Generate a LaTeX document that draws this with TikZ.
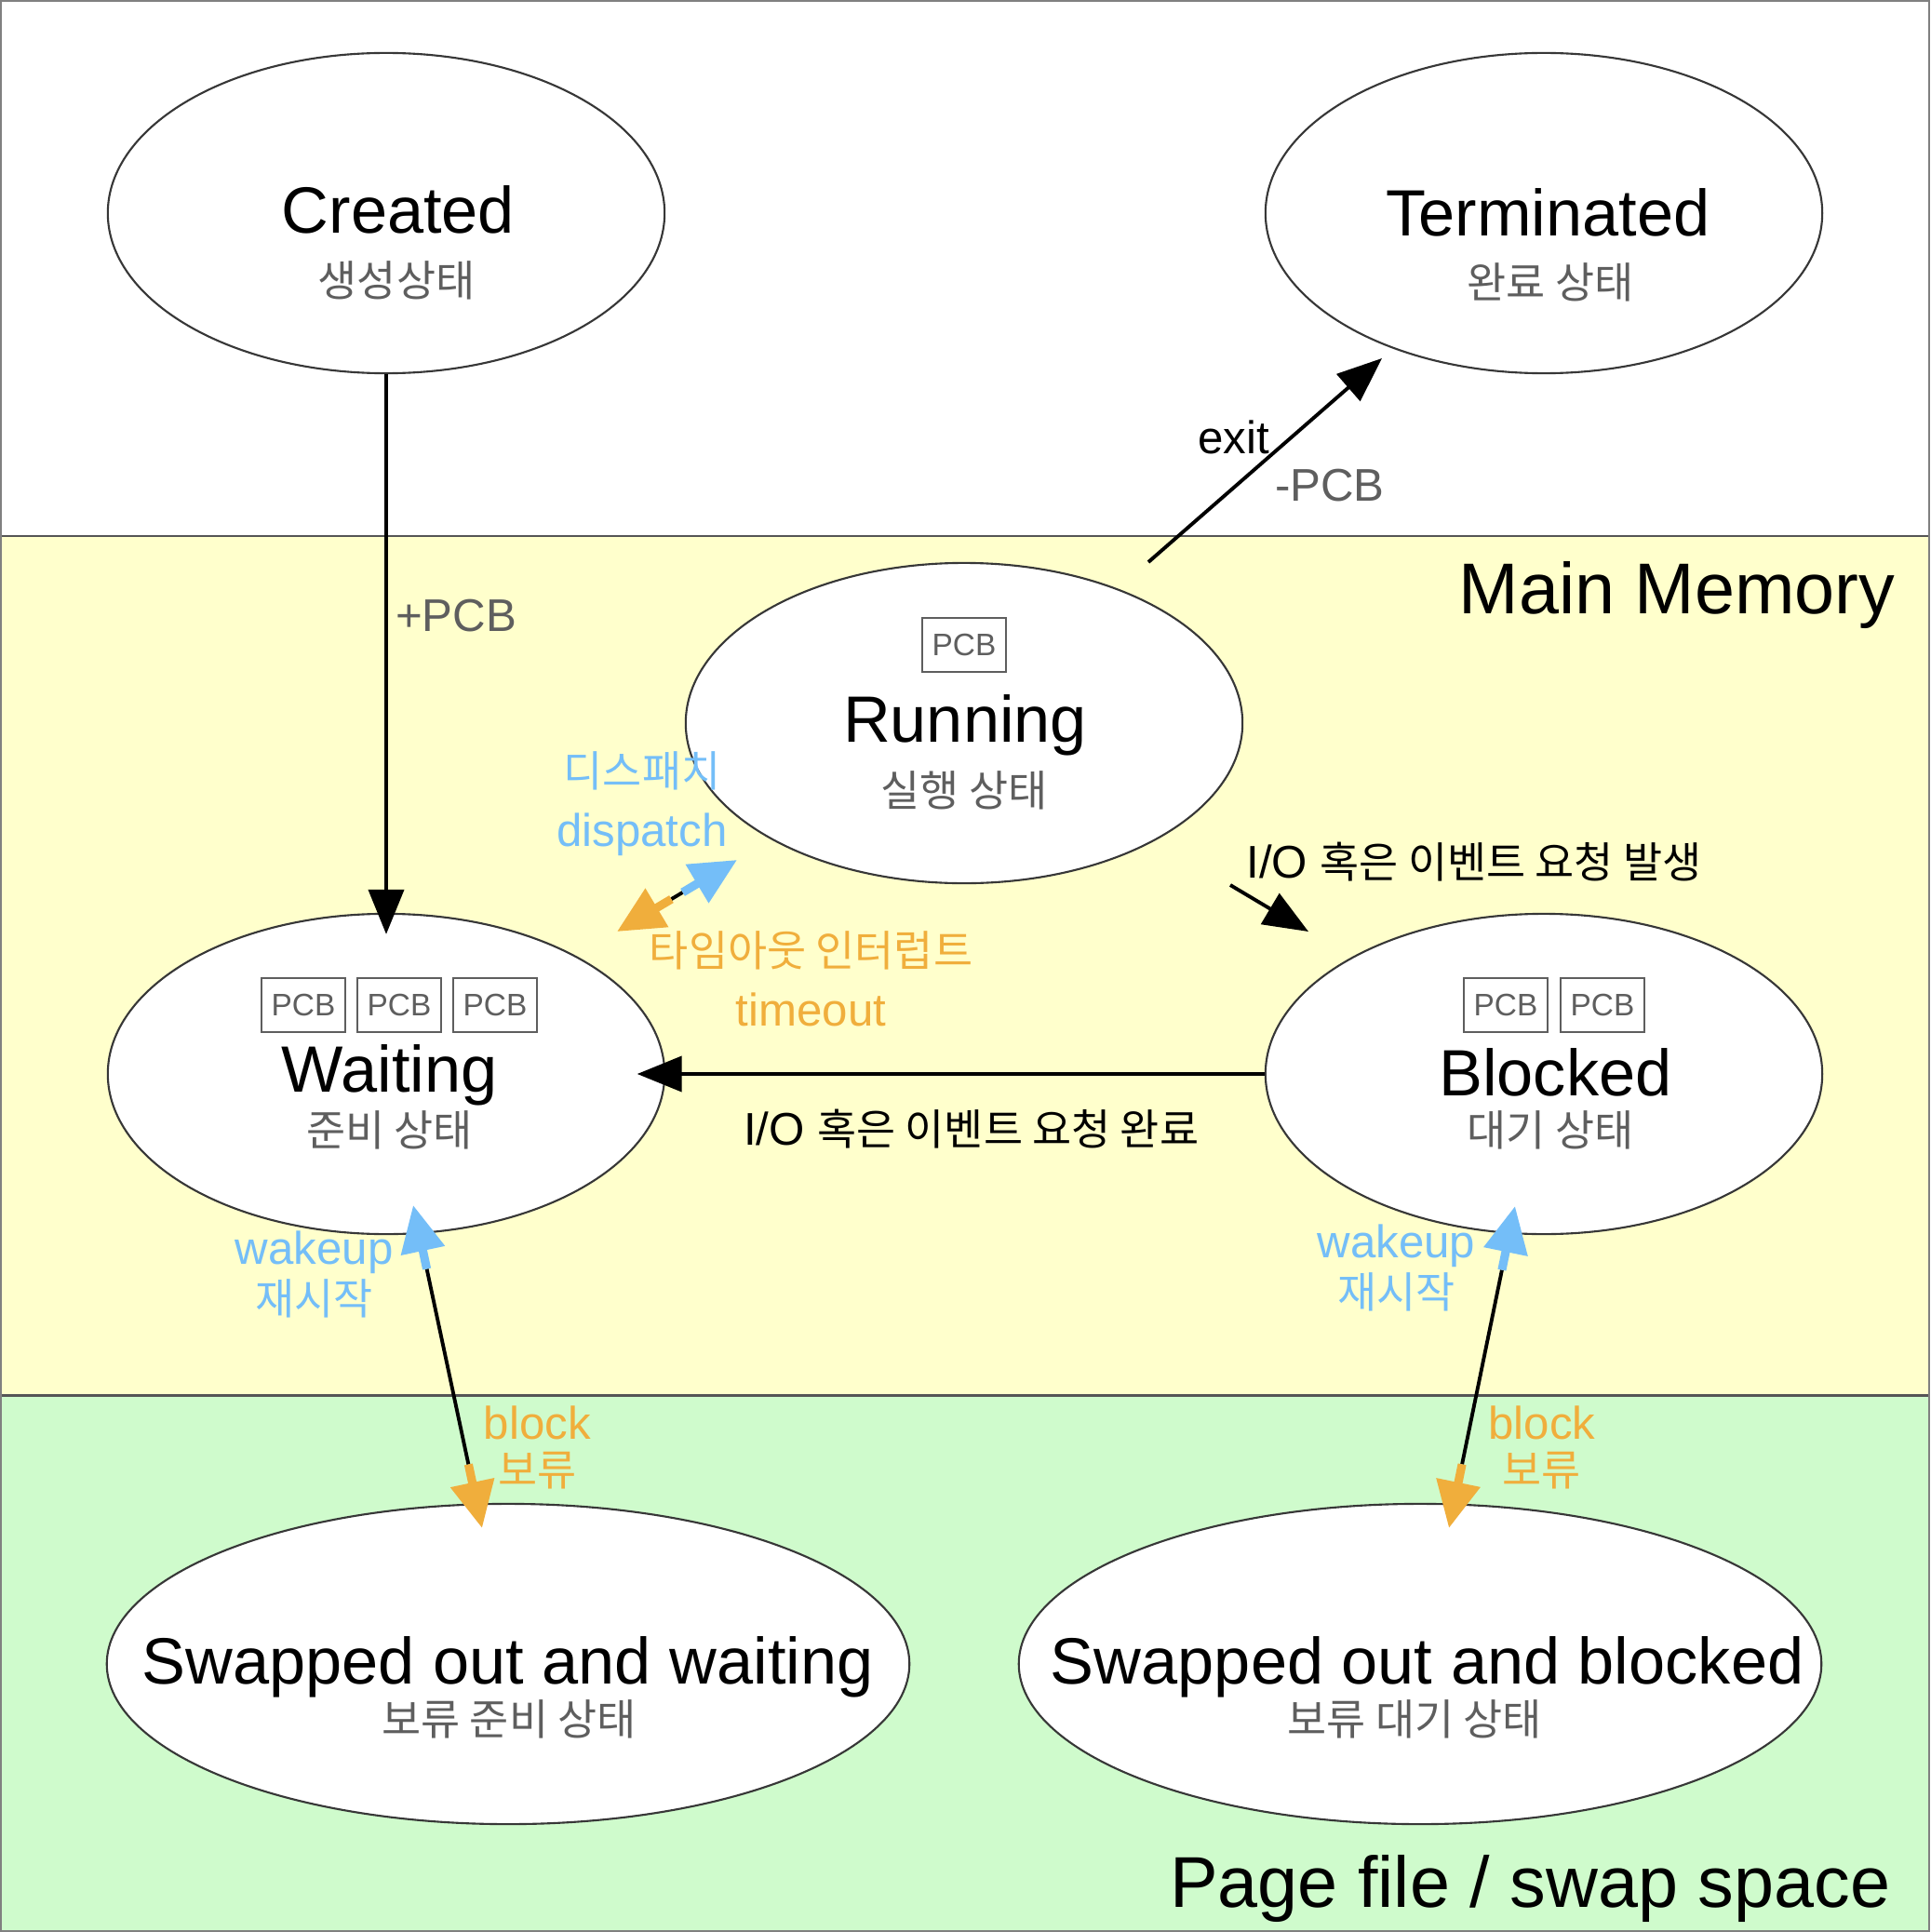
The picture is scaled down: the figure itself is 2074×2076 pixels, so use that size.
\documentclass[tikz,border=0pt]{standalone}
\usepackage{fontspec}
\setmainfont{Liberation Sans}
\newfontfamily\kr[Scale=0.93]{Noto Sans CJK KR}
\usetikzlibrary{arrows.meta,shapes.geometric,calc}
\definecolor{yband}{RGB}{255,255,204}
\definecolor{gband}{RGB}{207,251,204}
\definecolor{blueC}{RGB}{116,190,248}
\definecolor{orangeC}{RGB}{240,174,60}
\definecolor{grayT}{RGB}{94,94,94}
\definecolor{edgeC}{RGB}{55,55,55}
\definecolor{bandline}{RGB}{85,85,85}
\begin{document}
\begin{tikzpicture}[x=0.01cm,y=-0.01cm,
  statebox/.style={ellipse, draw=edgeC, line width=0.6pt, fill=white, inner sep=0pt,
    minimum width=5.98cm, minimum height=3.44cm},
  widebox/.style={statebox, minimum width=8.62cm},
  pcb/.style={rectangle, draw=grayT, line width=0.45pt, minimum width=0.9cm,
    minimum height=0.58cm, inner sep=0pt, text=grayT, font=\fontsize{9.5}{11}\selectfont},
  stname/.style={inner sep=0pt, font=\fontsize{20}{24}\selectfont},
  subname/.style={inner sep=0pt, text=grayT, font=\kr\fontsize{14}{16}\selectfont},
  lbl/.style={inner sep=0pt, font=\fontsize{14}{16}\selectfont},
  klbl/.style={inner sep=0pt, font=\kr\fontsize{14}{16}\selectfont},
  conn/.style={draw=black, line width=1.1pt, -{Triangle[length=0.48cm,width=0.38cm]}},
  blueend/.style={draw=blueC, line width=2.6pt, -{Triangle[length=0.5cm,width=0.46cm]}},
  orangeend/.style={draw=orangeC, line width=2.6pt, -{Triangle[length=0.5cm,width=0.46cm]}},
  thinline/.style={draw=black, line width=1.1pt}
]
\useasboundingbox (0,0) rectangle (2074,2076);
% bands
\fill[white] (0,0) rectangle (2074,576);
\fill[yband] (0,576) rectangle (2074,1499);
\fill[gband] (0,1499) rectangle (2074,2076);
\draw[bandline, line width=0.85pt] (0,576) -- (2074,576);
\draw[bandline, line width=0.85pt] (0,1499) -- (2074,1499);
\draw[gray, line width=0.6pt] (1,1) rectangle (2073,2075);

% states
\node[statebox] (created) at (415,229) {};
\node[statebox] (terminated) at (1659,229) {};
\node[statebox] (running) at (1036,777) {};
\node[statebox] (waiting) at (415,1154) {};
\node[statebox] (blocked) at (1659,1154) {};
\node[widebox] (swapw) at (546,1788) {};
\node[widebox] (swapb) at (1526,1788) {};

% region titles
\node[anchor=base east, inner sep=0pt, font=\fontsize{22}{26}\selectfont] (mainmem) at (2037,659.5) {Main Memory};
\node[anchor=base east, inner sep=0pt, font=\fontsize{22}{26}\selectfont] (pagefile) at (2032,2049) {Page file / swap space};

% connectors
\draw[conn, shorten >=-0.23cm] (created.south) -- (waiting.north);
\draw[conn, shorten >=-0.305cm] (blocked.west) -- (waiting.east);
\coordinate (ex0) at (1234,604);
\coordinate (ex1) at (1485,385);
\draw[conn] (ex0) -- (ex1);
\coordinate (io0) at (1322,951);
\coordinate (io1) at (1406,1001);
\draw[conn] (io0) -- (io1);

% dispatch / timeout
\coordinate (dpB) at (792,924);
\coordinate (dpO) at (663,1001);
\draw[thinline] ($(dpB)!0.68cm!(dpO)$) -- ($(dpO)!0.68cm!(dpB)$);
\draw[blueend] ($(dpB)!0.68cm!(dpO)$) -- (dpB);
\draw[orangeend] ($(dpO)!0.68cm!(dpB)$) -- (dpO);

% left swap
\coordinate (swlU) at (444,1295);
\coordinate (swlD) at (518,1642);
\draw[thinline] ($(swlU)!0.70cm!(swlD)$) -- ($(swlD)!0.70cm!(swlU)$);
\draw[blueend] ($(swlU)!0.70cm!(swlD)$) -- (swlU);
\draw[orangeend] ($(swlD)!0.70cm!(swlU)$) -- (swlD);

% right swap
\coordinate (swrU) at (1628,1296);
\coordinate (swrD) at (1557,1642);
\draw[thinline] ($(swrU)!0.70cm!(swrD)$) -- ($(swrD)!0.70cm!(swrU)$);
\draw[blueend] ($(swrU)!0.70cm!(swrD)$) -- (swrU);
\draw[orangeend] ($(swrD)!0.70cm!(swrU)$) -- (swrD);

% state texts
\node[stname] (tcreated) at (428,225) {Created};
\node[subname] (kcreated) at (426,301) {생성상태};
\node[stname] (tterm) at (1663.5,228) {Terminated};
\node[subname] (kterm) at (1666,303) {완료 상태};
\node[pcb] (pcbr) at (1036,693) {PCB};
\node[stname] (trun) at (1037,779.5) {Running};
\node[subname] (krun) at (1036,849) {실행 상태};
\node[pcb] (pcbw1) at (326,1080) {PCB};
\node[pcb] (pcbw2) at (429,1080) {PCB};
\node[pcb] (pcbw3) at (532,1080) {PCB};
\node[stname] (twait) at (418.5,1155.6) {Waiting};
\node[subname] (kwait) at (418.5,1214) {준비 상태};
\node[pcb] (pcbb1) at (1618,1080) {PCB};
\node[pcb] (pcbb2) at (1722,1080) {PCB};
\node[stname] (tblock) at (1671.4,1152.2) {Blocked};
\node[subname] (kblock) at (1666,1214) {대기 상태};
\node[stname] (tswapw) at (545.7,1791.3) {Swapped out and waiting};
\node[subname] (kswapw) at (547,1847) {보류 준비 상태};
\node[stname] (tswapb) at (1533.7,1791.3) {Swapped out and blocked};
\node[subname] (kswapb) at (1520.4,1847) {보류 대기 상태};

% labels
\node[lbl, text=grayT] (lplus) at (490,662) {+PCB};
\node[lbl] (lexit) at (1325.7,470) {exit};
\node[lbl, text=grayT] (lminus) at (1429,522) {-PCB};
\node[klbl, text=blueC] (ldispk) at (690,828) {디스패치};
\node[lbl, text=blueC] (ldisp) at (690,896.6) {dispatch};
\node[klbl, text=orangeC] (ltimek) at (871.5,1021.5) {타임아웃 인터럽트};
\node[lbl, text=orangeC] (ltime) at (871.5,1084.7) {timeout};
\node[lbl] (lioreq) at (1584,926) {I/O {\kr 혹은 이벤트 요청 발생}};
\node[lbl] (liodone) at (1043.6,1213.5) {I/O {\kr 혹은 이벤트 요청 완료}};
\node[lbl, text=blueC] (lwl) at (337.7,1345.6) {wakeup};
\node[klbl, text=blueC] (lwlk) at (337.7,1395) {재시작};
\node[lbl, text=orangeC] (lbl1) at (577.4,1528.4) {block};
\node[klbl, text=orangeC] (lbl1k) at (577.4,1580.4) {보류};
\node[lbl, text=blueC] (lwr) at (1500.5,1339) {wakeup};
\node[klbl, text=blueC] (lwrk) at (1500.5,1388.3) {재시작};
\node[lbl, text=orangeC] (lbr) at (1656.8,1528.4) {block};
\node[klbl, text=orangeC] (lbrk) at (1656.8,1580.4) {보류};
\end{tikzpicture}
\end{document}
